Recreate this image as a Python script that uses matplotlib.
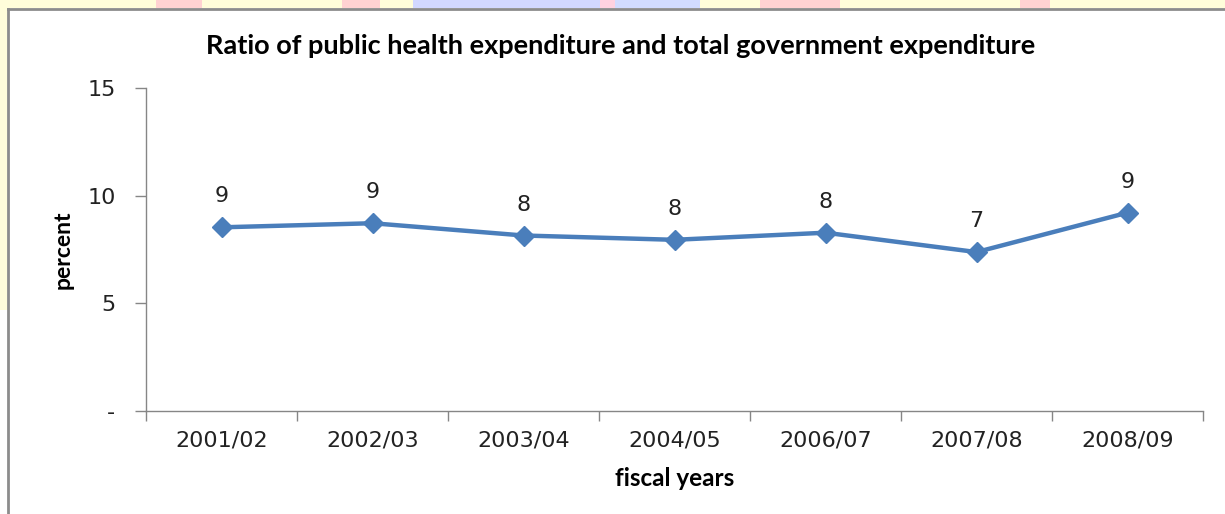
import matplotlib.pyplot as plt
from matplotlib.patches import Rectangle

# Data
years = ["2001/02", "2002/03", "2003/04", "2004/05", "2006/07", "2007/08", "2008/09"]
ratio = [8.53, 8.72, 8.15, 7.95, 8.28, 7.38, 9.21]
y_ticks = [0, 5, 10, 15]
y_tick_labels = ["-", "5", "10", "15"]

W, H = 1225, 514
fig = plt.figure(figsize=(W / 100, H / 100), dpi=100)
fig.patch.set_facecolor("white")

# slide background peeking out at top and left
fig.patches.append(Rectangle((0, 1 - 8 / H), 1, 8 / H, transform=fig.transFigure,
                             facecolor="#FFFDDA", edgecolor="none", zorder=0))
fig.patches.append(Rectangle((0, 1 - 310 / H), 8 / W, 310 / H, transform=fig.transFigure,
                             facecolor="#FFFDDA", edgecolor="none", zorder=0))
for x0, x1, col in [(156, 202, "#FFD2D2"), (342, 380, "#FFD2D2"), (413, 600, "#D2D8FF"),
                    (600, 615, "#FFD2E0"), (615, 700, "#D2DCFF"), (760, 840, "#FFD2D2"),
                    (1020, 1050, "#FFD2D2")]:
    fig.patches.append(Rectangle((x0 / W, 1 - 8 / H), (x1 - x0) / W, 8 / H,
                                 transform=fig.transFigure, facecolor=col,
                                 edgecolor="none", zorder=0))
# chart frame
fig.add_artist(plt.Line2D([8 / W, 1], [1 - 9 / H, 1 - 9 / H], transform=fig.transFigure,
                          color="#8C8C8C", lw=2))
fig.add_artist(plt.Line2D([8 / W, 8 / W], [0, 1 - 9 / H], transform=fig.transFigure,
                          color="#8C8C8C", lw=2))

ax = fig.add_axes([146 / W, (H - 411) / H, (1203 - 146) / W, (411 - 88) / H])
ax.set_facecolor("none")

x = range(len(years))
ax.plot(x, ratio, color="#4A7EBB", lw=3.2, marker="D", markersize=10.5, zorder=3)

for xi, v in zip(x, ratio):
    ax.annotate(f"{round(v)}", (xi, v), xytext=(0, 18), textcoords="offset points",
                ha="center", va="baseline", fontsize=16, color="#222222",
                family="DejaVu Sans")

ax.set_xlim(-0.5, len(years) - 0.5)
ax.set_ylim(0, 15)
ax.set_yticks(y_ticks)
ax.set_yticklabels(y_tick_labels)
ax.set_xticks(list(x))
ax.set_xticklabels(years)
ax.set_xticks([i - 0.5 for i in range(len(years) + 1)], minor=True)
ax.tick_params(axis="x", which="major", length=0, pad=14, labelsize=16, labelcolor="#222222")
ax.tick_params(axis="x", which="minor", length=7, color="#868686", width=1)
ax.tick_params(axis="y", length=8, color="#868686", width=1, pad=14, labelsize=16,
               labelcolor="#222222")

for s in ["top", "right"]:
    ax.spines[s].set_visible(False)
for s in ["left", "bottom"]:
    ax.spines[s].set_color("#868686")
    ax.spines[s].set_linewidth(1)

ax.set_xlabel("fiscal years", family="Lato", fontweight="bold", fontsize=17.5, labelpad=12)
ax.set_ylabel("percent", family="Lato", fontweight="bold", fontsize=16.5, labelpad=10)

fig.text((200 + 1041) / 2 / W, 1 - 46 / H,
         "Ratio of public health expenditure and total government expenditure",
         ha="center", va="center", family="Lato", fontweight="bold", fontsize=19.5)

fig.savefig("out.png", dpi=100)
